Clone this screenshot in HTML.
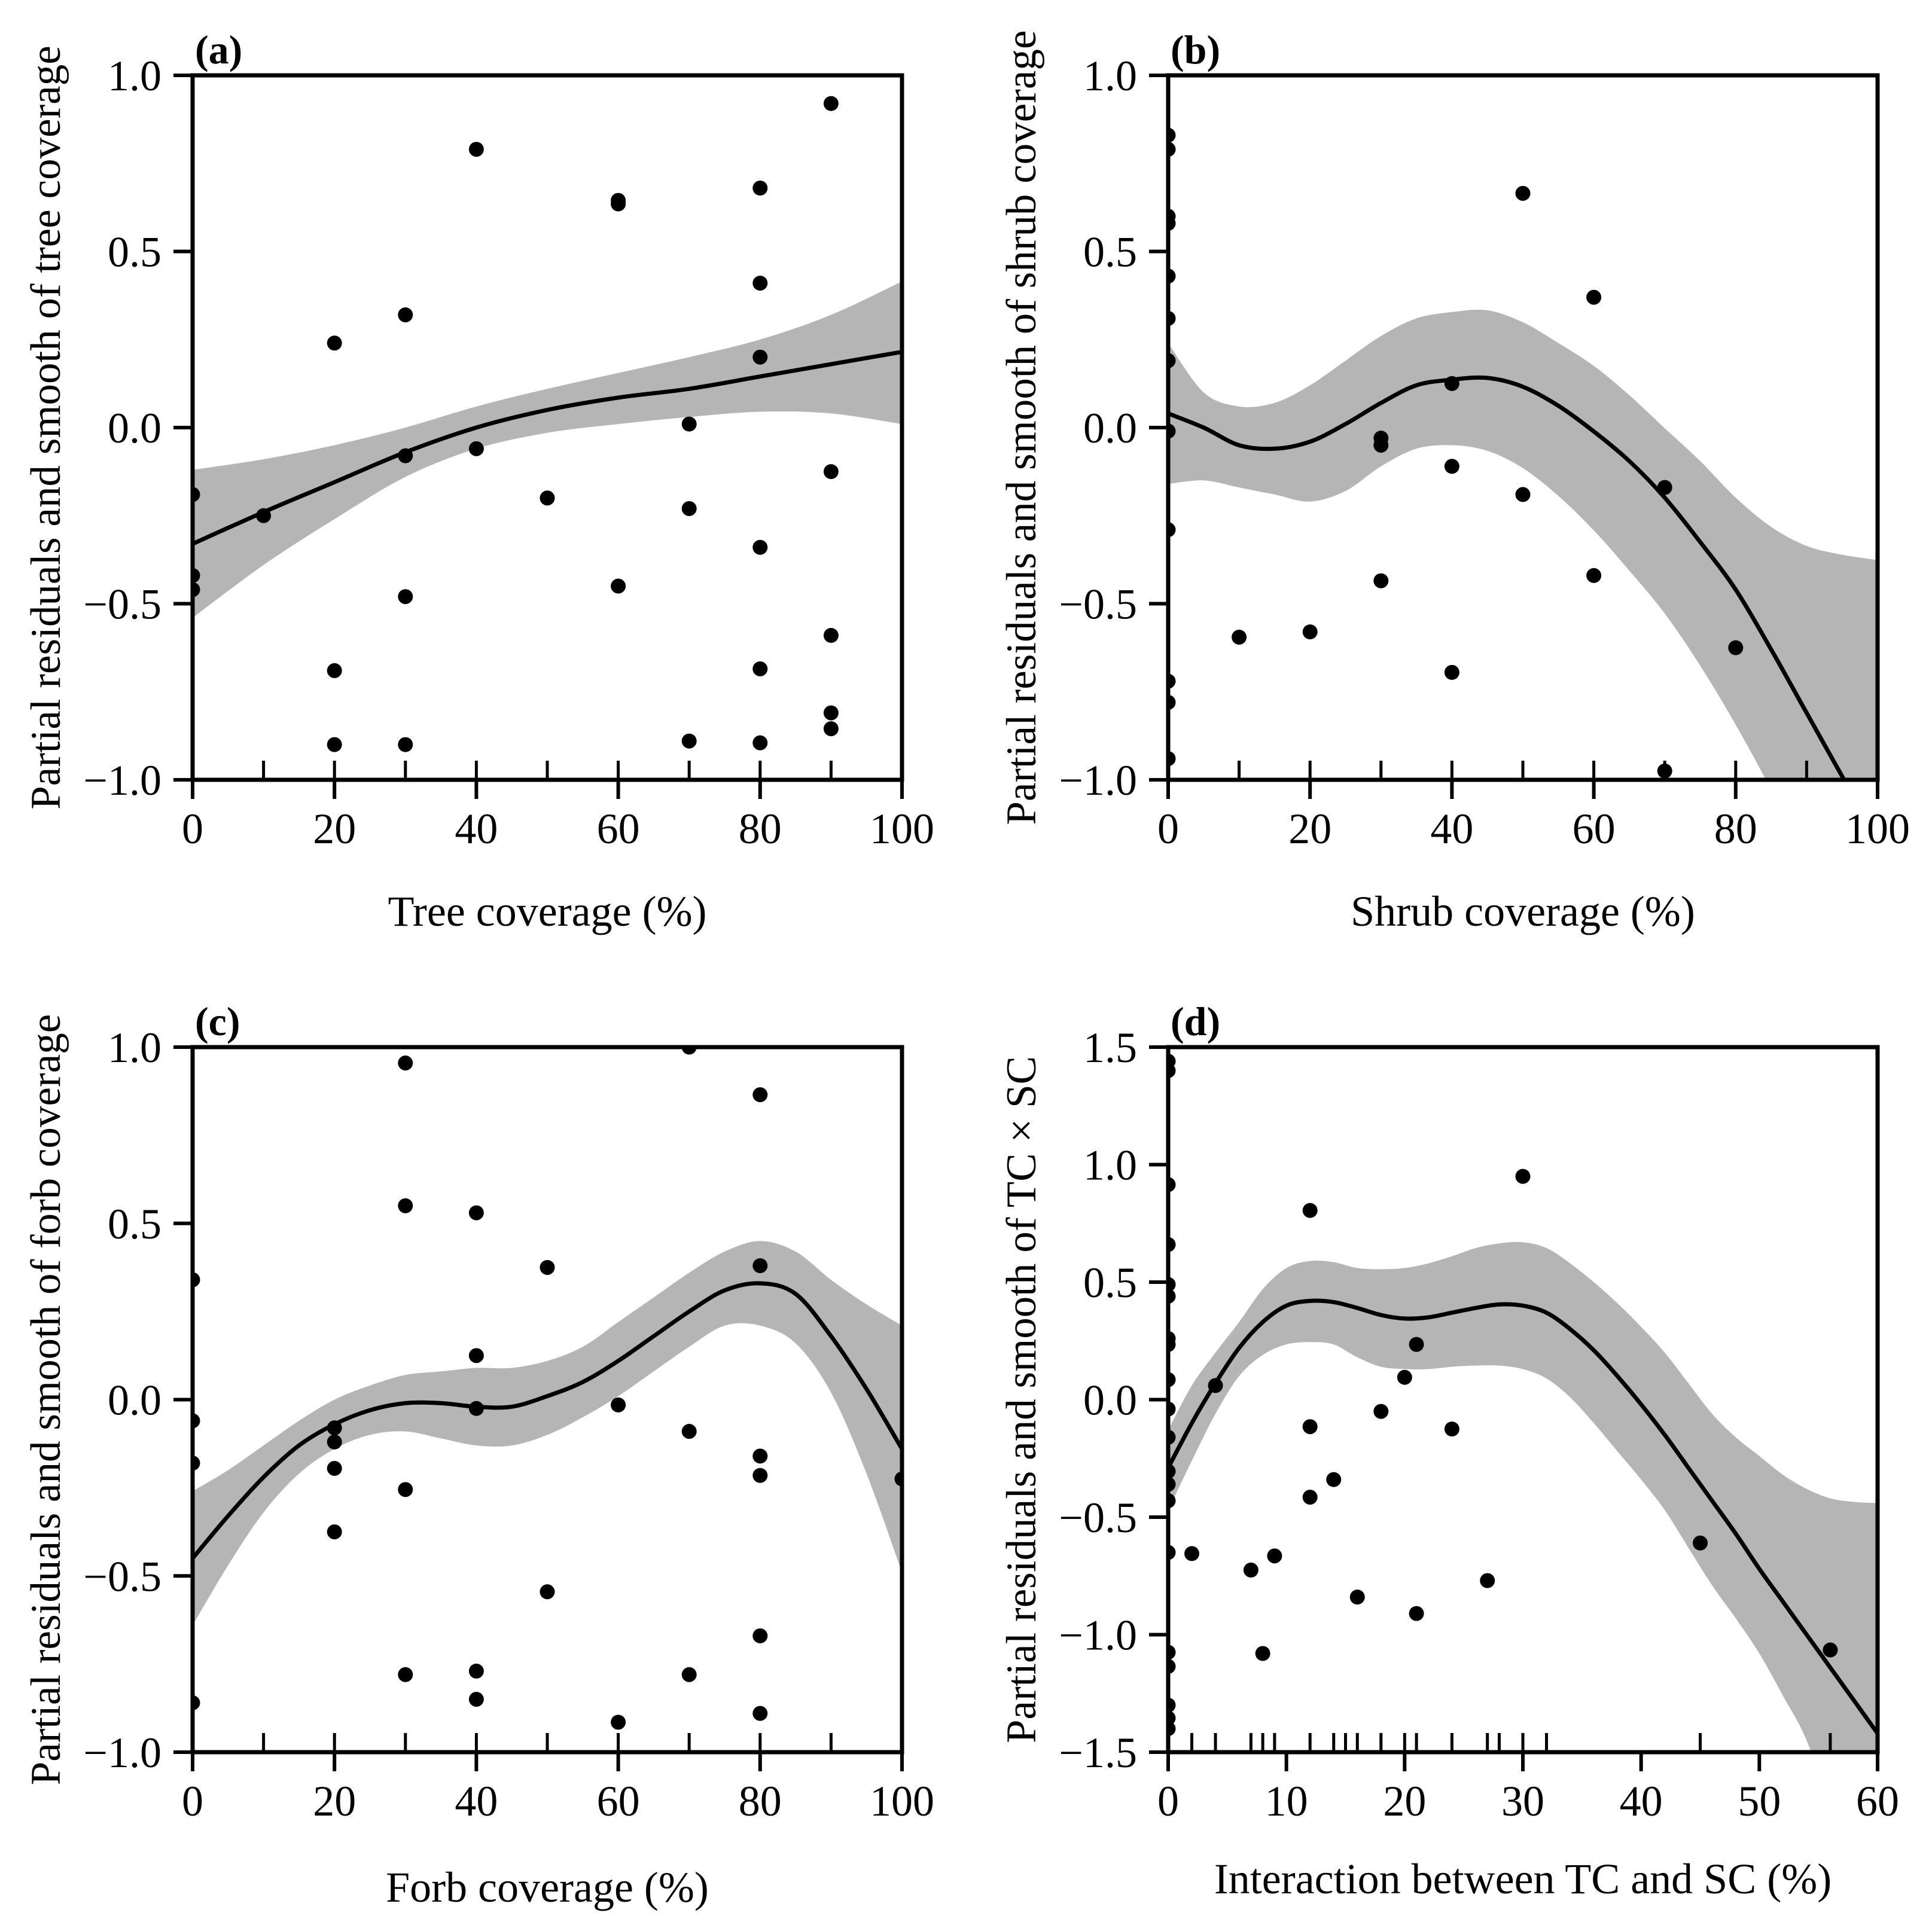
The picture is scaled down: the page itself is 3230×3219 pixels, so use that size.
<!DOCTYPE html>
<html><head><meta charset="utf-8"><style>
html,body{margin:0;padding:0;background:#fff;}
svg{display:block;font-family:"Liberation Serif",serif;}
</style></head><body>
<svg id="fig" width="3230" height="3219" viewBox="0 0 3230 3219" xmlns="http://www.w3.org/2000/svg"></svg>
<script>
// ---------- Panel (a) ----------
const aPtsX = [0,0,0,10,20,20,20,30,30,30,30,40,40,50,60,60,60,70,70,70,80,80,80,80,80,80,90,90,90,90,90];
const aPtsY = [-0.19,-0.42,-0.46,-0.25,0.24,-0.69,-0.90,0.32,-0.08,-0.48,-0.90,0.79,-0.06,-0.20,0.645,0.635,-0.45,0.01,-0.23,-0.89,0.68,0.41,0.20,-0.34,-0.685,-0.895,0.92,-0.125,-0.59,-0.81,-0.855];
const aFitX = [0,10,20,30,40,50,60,70,80,90,100];
const aFit = [-0.33,-0.24,-0.155,-0.07,0.0,0.05,0.085,0.11,0.145,0.18,0.215];
const aUp = [-0.12,-0.09,-0.05,0.0,0.06,0.11,0.155,0.2,0.25,0.32,0.415];
const aLo = [-0.54,-0.39,-0.26,-0.14,-0.06,-0.015,0.01,0.03,0.045,0.04,0.01];
const aRug = [0,10,20,30,40,50,60,70,80,90];
const aXTicks = ["0","20","40","60","80","100"];
const aYTicks = ["−1.0","−0.5","0.0","0.5","1.0"];

// ---------- Panel (b) ----------
const bPtsX = [0,0,0,0,0,0,0,0,0,0,0,0,10,20,30,30,30,40,40,40,50,50,60,60,70,70,80];
const bPtsY = [0.83,0.79,0.60,0.58,0.43,0.31,0.19,-0.01,-0.29,-0.72,-0.78,-0.94,-0.595,-0.58,-0.03,-0.05,-0.435,0.125,-0.11,-0.695,0.665,-0.19,0.37,-0.42,-0.17,-0.975,-0.625];
const bFitX = [0,5,10,15,20,25,30,35,40,45,50,55,60,65,70,75,80,85,90,95,100];
const bFit = [0.04,0.0,-0.05,-0.06,-0.04,0.01,0.07,0.12,0.136,0.141,0.116,0.062,-0.011,-0.095,-0.199,-0.325,-0.46,-0.63,-0.81,-0.99,-1.17];
const bUp = [0.24,0.1,0.06,0.07,0.12,0.19,0.26,0.31,0.328,0.333,0.299,0.24,0.175,0.092,-0.002,-0.095,-0.199,-0.282,-0.336,-0.361,-0.376];
const bLo = [-0.16,-0.15,-0.17,-0.19,-0.21,-0.18,-0.11,-0.06,-0.05,-0.066,-0.115,-0.194,-0.292,-0.406,-0.528,-0.676,-0.844,-1.03,-1.25,-1.5,-1.75];
const bRug = [0,10,20,30,40,50,60,70,80,90];
const bXTicks = ["0","20","40","60","80","100"];
const bYTicks = ["−1.0","−0.5","0.0","0.5","1.0"];

// ---------- Panel (c) ----------
const cPtsX = [0,0,0,0,20,20,20,20,30,30,30,30,40,40,40,40,40,50,50,60,60,70,70,70,80,80,80,80,80,80,100];
const cPtsY = [0.34,-0.06,-0.18,-0.86,-0.08,-0.12,-0.195,-0.375,0.955,0.55,-0.255,-0.78,0.53,0.125,-0.025,-0.77,-0.85,0.375,-0.545,-0.015,-0.915,1.0,-0.09,-0.78,0.865,0.38,-0.16,-0.215,-0.67,-0.89,-0.225];
const cFitX = [0,5,10,15,20,25,30,35,40,45,50,55,60,65,70,75,80,85,90,95,100];
const cFit = [-0.45,-0.33,-0.22,-0.13,-0.07,-0.03,-0.01,-0.01,-0.02,-0.02,0.01,0.05,0.11,0.18,0.25,0.31,0.33,0.3,0.18,0.03,-0.14];
const cUp = [-0.26,-0.2,-0.13,-0.06,0.0,0.04,0.07,0.08,0.09,0.09,0.11,0.15,0.22,0.29,0.36,0.42,0.45,0.42,0.34,0.27,0.21];
const cLo = [-0.64,-0.47,-0.32,-0.21,-0.14,-0.1,-0.09,-0.11,-0.13,-0.13,-0.1,-0.05,0.01,0.08,0.15,0.21,0.21,0.16,0.02,-0.21,-0.49];
const cRug = [0,10,20,30,40,50,60,70,80,90,100];
const cXTicks = ["0","20","40","60","80","100"];
const cYTicks = ["−1.0","−0.5","0.0","0.5","1.0"];

// ---------- Panel (d) ----------
const dPtsX = [0,0,0,0,0,0,0,0,0,0,0,0,0,0,0,0,0,0,0,0,2,4,7,8,9,12,12,12,14,16,18,20,21,21,24,27,30,45,56];
const dPtsY = [1.44,1.40,0.915,0.66,0.49,0.44,0.26,0.235,0.085,-0.04,-0.16,-0.305,-0.36,-0.43,-0.65,-1.075,-1.135,-1.3,-1.355,-1.4,-0.655,0.06,-0.725,-1.08,-0.665,0.805,-0.115,-0.415,-0.34,-0.84,-0.05,0.095,0.235,-0.91,-0.125,-0.77,0.95,-0.61,-1.065];
const dFitX = [0,2,4,6,8,10,12,14,16,18,20,22,24,26,28,30,32,34,36,38,40,42,44,46,48,50,52,54,56,58,60];
const dFit = [-0.29,-0.1,0.07,0.22,0.33,0.40,0.42,0.415,0.39,0.36,0.345,0.35,0.37,0.39,0.405,0.40,0.37,0.3,0.21,0.1,-0.02,-0.15,-0.29,-0.43,-0.57,-0.72,-0.86,-1.0,-1.14,-1.28,-1.42];
const dUp = [-0.13,0.06,0.2,0.33,0.47,0.56,0.59,0.585,0.56,0.555,0.56,0.58,0.61,0.645,0.665,0.67,0.645,0.58,0.5,0.41,0.31,0.2,0.07,-0.06,-0.16,-0.24,-0.32,-0.38,-0.42,-0.435,-0.44];
const dLo = [-0.47,-0.26,-0.06,0.1,0.19,0.235,0.245,0.235,0.18,0.14,0.13,0.13,0.14,0.145,0.145,0.13,0.09,0.01,-0.1,-0.22,-0.34,-0.47,-0.63,-0.79,-0.93,-1.08,-1.26,-1.45,-1.75,-2.0,-2.3];
const dRug = [0,2,4,7,8,9,12,14,15,16,18,20,21,24,27,28,30,32,45,56];
const dXTicks = ["0","10","20","30","40","50","60"];
const dYTicks = ["−1.5","−1.0","−0.5","0.0","0.5","1.0","1.5"];

const NS = "http://www.w3.org/2000/svg";
const fig = document.getElementById('fig');
function mk(tag, attrs, parent){
  const e = document.createElementNS(NS, tag);
  for (const k in attrs) e.setAttribute(k, attrs[k]);
  (parent||fig).appendChild(e);
  return e;
}
function num(s){ return parseFloat(s.replace('−','-')); }
function smoothPath(xs, ys){
  let d = "M" + xs[0].toFixed(1) + "," + ys[0].toFixed(1);
  for (let i=0;i<xs.length-1;i++){
    const x0=xs[Math.max(0,i-1)], y0=ys[Math.max(0,i-1)];
    const x1=xs[i], y1=ys[i], x2=xs[i+1], y2=ys[i+1];
    const x3=xs[Math.min(xs.length-1,i+2)], y3=ys[Math.min(xs.length-1,i+2)];
    const c1x=x1+(x2-x0)/6, c1y=y1+(y2-y0)/6, c2x=x2-(x3-x1)/6, c2y=y2-(y3-y1)/6;
    d += " C"+c1x.toFixed(1)+","+c1y.toFixed(1)+" "+c2x.toFixed(1)+","+c2y.toFixed(1)+" "+x2.toFixed(1)+","+y2.toFixed(1);
  }
  return d;
}

function panel(cfg){
  const {id,L,R,T,B,xmax,ymin,ymax,ptsX,ptsY,fitX,fit,up,lo,rug,xTicks,yTicks,xlab,ylab,xlabY,letter} = cfg;
  const g = mk('g', {});
  
  
  const sx = v => L + (v/xmax)*(R-L);
  const sy = v => B - (v-ymin)/(ymax-ymin)*(B-T);
  const clip = mk('clipPath', {id:'clip-'+id}, g);
  mk('rect', {x:L, y:T, width:R-L, height:B-T}, clip);
  const plot = mk('g', {'clip-path':'url(#clip-'+id+')'}, g);
  const px = fitX.map(sx);
  const upY = up.map(sy), loY = lo.map(sy);
  let dBand = smoothPath(px, upY);
  const rx = px.slice().reverse(), rl = loY.slice().reverse();
  dBand += " L" + rx[0].toFixed(1)+","+rl[0].toFixed(1) + smoothPath(rx, rl).replace(/^M[^ ]+/,'') + " Z";
  const band = mk('path', {d:dBand, fill:'#b5b5b5', stroke:'none'}, plot);
  
  
  const line = mk('path', {d:smoothPath(px, fit.map(sy)), fill:'none', stroke:'#000', 'stroke-width':7}, plot);
  
  
  for (let i=0;i<ptsX.length;i++){
    const c = mk('circle', {cx:sx(ptsX[i]), cy:sy(ptsY[i]), r:12.5, fill:'#000'}, plot);
    
    
  }
  for (const r of rug){
    const t = mk('line', {x1:sx(r), x2:sx(r), y1:B, y2:B-32, stroke:'#000', 'stroke-width':5}, g);
    
    
  }
  const fr = mk('rect', {x:L, y:T, width:R-L, height:B-T, fill:'none', stroke:'#000', 'stroke-width':7}, g);
  
  
  for (const s of xTicks){
    const v = num(s), x = sx(v);
    mk('line', {x1:x, x2:x, y1:B, y2:B+32, stroke:'#000', 'stroke-width':6}, g);
    const t = mk('text', {x:x, y:B+106, 'text-anchor':'middle', 'font-size':72}, g);
    t.textContent = s;
    
    
  }
  for (const s of yTicks){
    const v = num(s), y = sy(v);
    mk('line', {x1:L, x2:L-32, y1:y, y2:y, stroke:'#000', 'stroke-width':6}, g);
    const t = mk('text', {x:L-52, y:y+25, 'text-anchor':'end', 'font-size':72}, g);
    t.textContent = s;
    
    
  }
  const xl = mk('text', {x:(L+R)/2, y:xlabY, 'text-anchor':'middle', 'font-size':72}, g);
  xl.textContent = xlab;
  
  
  const cy = (T+B)/2, cx = L-222;
  const yl = mk('text', {x:cx, y:cy, 'text-anchor':'middle', 'font-size':71, transform:'rotate(-90 '+cx+' '+cy+')'}, g);
  yl.textContent = ylab;
  
  
  const pl = mk('text', {x:L+4, y:T-20, 'font-size':68, 'font-weight':'bold'}, g);
  pl.textContent = letter;
  
  
}

panel({id:'a',L:322,R:1508,T:126,B:1304,xmax:100,ymin:-1,ymax:1,ptsX:aPtsX,ptsY:aPtsY,fitX:aFitX,fit:aFit,up:aUp,lo:aLo,rug:aRug,xTicks:aXTicks,yTicks:aYTicks,xlab:"Tree coverage (%)",ylab:"Partial residuals and smooth of tree coverage",xlabY:1548,letter:"(a)"});
panel({id:'b',L:1953,R:3139,T:126,B:1304,xmax:100,ymin:-1,ymax:1,ptsX:bPtsX,ptsY:bPtsY,fitX:bFitX,fit:bFit,up:bUp,lo:bLo,rug:bRug,xTicks:bXTicks,yTicks:bYTicks,xlab:"Shrub coverage (%)",ylab:"Partial residuals and smooth of shrub coverage",xlabY:1548,letter:"(b)"});
panel({id:'c',L:322,R:1508,T:1751,B:2930,xmax:100,ymin:-1,ymax:1,ptsX:cPtsX,ptsY:cPtsY,fitX:cFitX,fit:cFit,up:cUp,lo:cLo,rug:cRug,xTicks:cXTicks,yTicks:cYTicks,xlab:"Forb coverage (%)",ylab:"Partial residuals and smooth of forb coverage",xlabY:3180,letter:"(c)"});
panel({id:'d',L:1953,R:3139,T:1751,B:2930,xmax:60,ymin:-1.5,ymax:1.5,ptsX:dPtsX,ptsY:dPtsY,fitX:dFitX,fit:dFit,up:dUp,lo:dLo,rug:dRug,xTicks:dXTicks,yTicks:dYTicks,xlab:"Interaction between TC and SC (%)",ylab:"Partial residuals and smooth of TC × SC",xlabY:3166,letter:"(d)"});
</script>
</body></html>
